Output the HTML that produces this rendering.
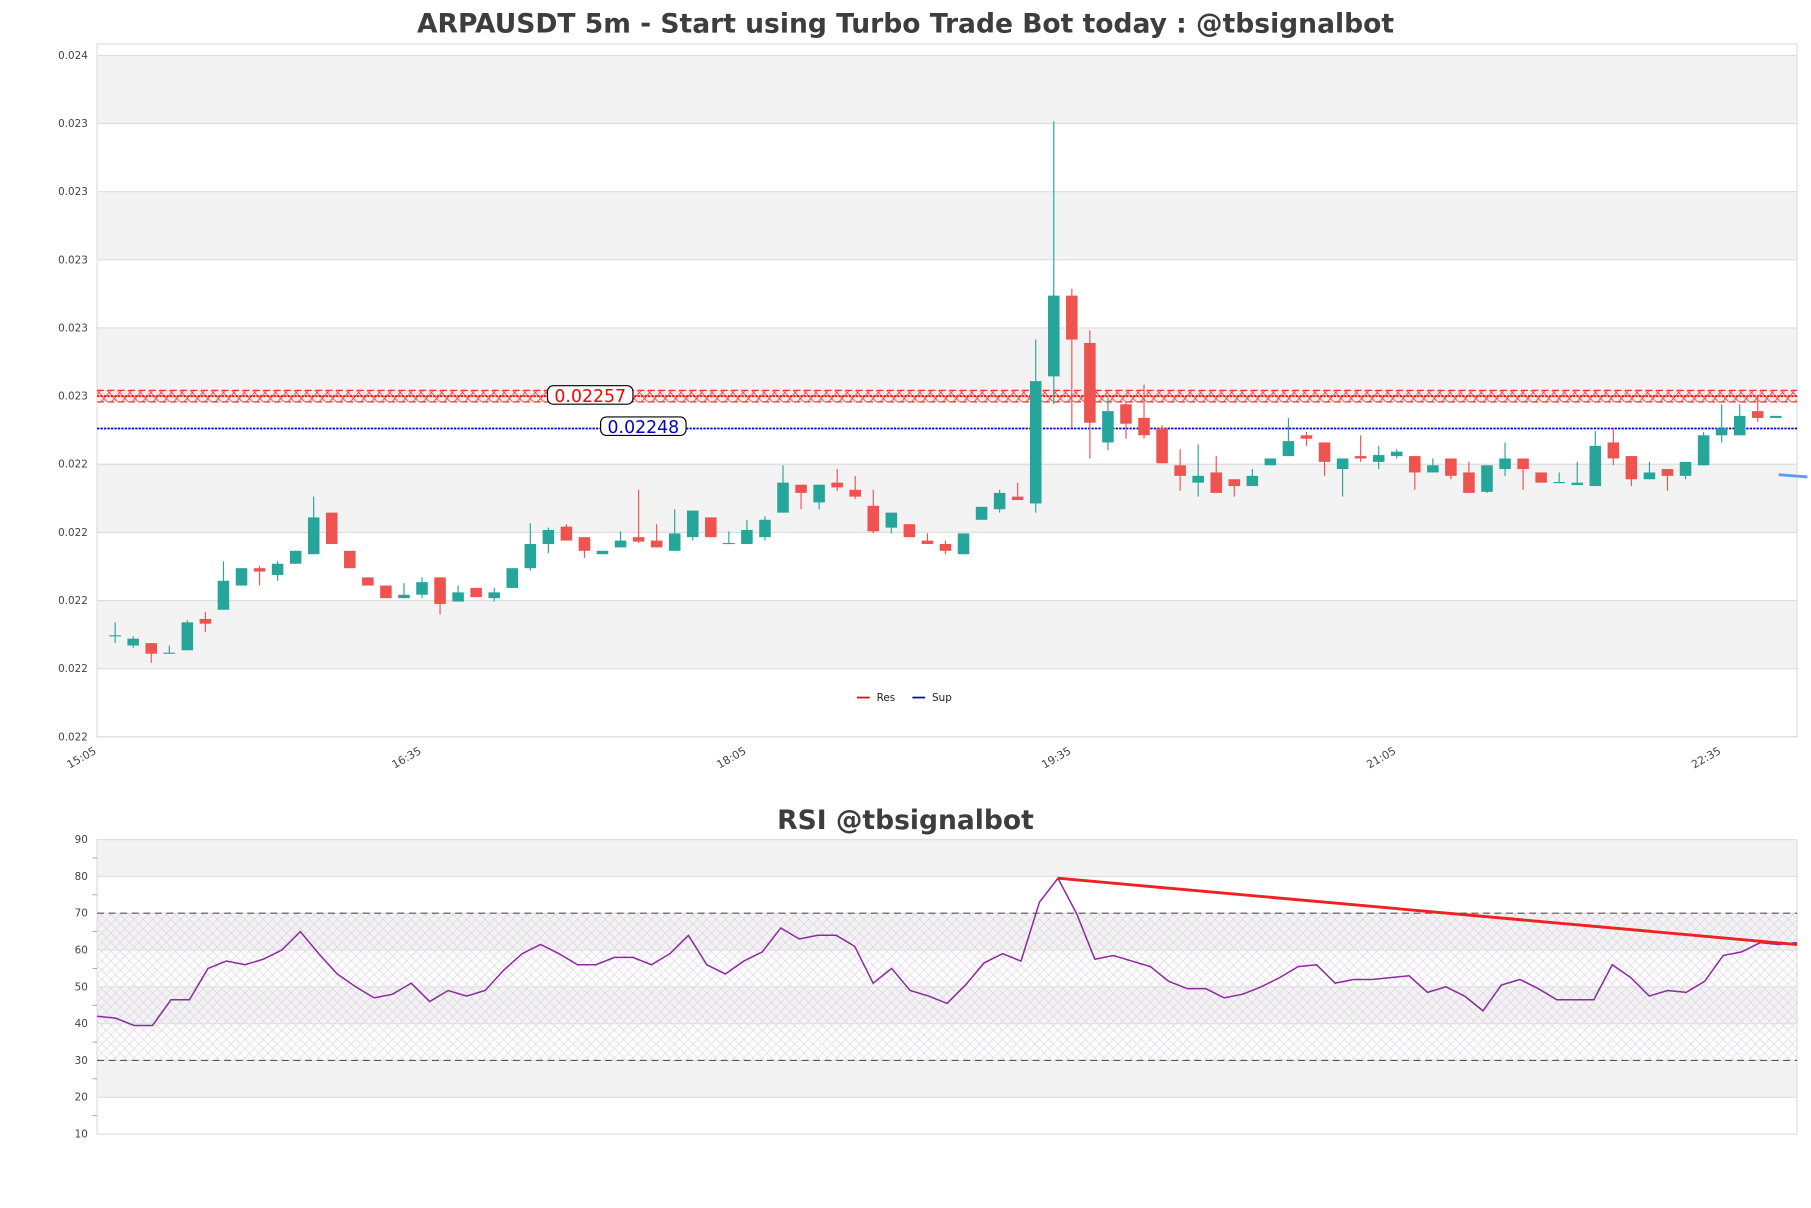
<!DOCTYPE html>
<html><head><meta charset="utf-8"><style>
html,body{margin:0;padding:0;background:#fff;}
svg{display:block;font-family:"DejaVu Sans","Liberation Sans",sans-serif;}
</style></head><body>
<svg id="chart" xmlns="http://www.w3.org/2000/svg" width="1811" height="1208" viewBox="0 0 1568 1046">
<defs>
<pattern id="resHatch" width="9" height="10" patternUnits="userSpaceOnUse">
<path d="M0,5 L4.5,0 L9,5 L4.5,10 Z" fill="none" stroke="#e33" stroke-width="0.7"/>
</pattern>
<pattern id="rsiHatch" width="8" height="8" patternUnits="userSpaceOnUse">
<path d="M0,0 L8,8 M8,0 L0,8" stroke="#d8c8e0" stroke-width="0.5" fill="none"/>
</pattern>
</defs>
<text x="784" y="28" text-anchor="middle" font-size="23" font-weight="bold" fill="#3d3d3d">ARPAUSDT 5m - Start using Turbo Trade Bot today : @tbsignalbot</text>
<text x="784" y="718" text-anchor="middle" font-size="23" font-weight="bold" fill="#3d3d3d">RSI @tbsignalbot</text>
<g id="main"></g>
<g id="rsi"></g>
</svg>
<script>
const opens=[0.021895,0.021868,0.021875,0.021844,0.021854,0.021946,0.021973,0.022044,0.022095,0.022075,0.022108,0.022136,0.022258,0.022146,0.022068,0.022044,0.022007,0.022017,0.022068,0.021997,0.022037,0.022007,0.022037,0.022095,0.022166,0.022217,0.022186,0.022136,0.022156,0.022186,0.022176,0.022146,0.022186,0.022244,0.022166,0.022166,0.022186,0.022258,0.022340,0.022288,0.022346,0.022325,0.022278,0.022214,0.022224,0.022176,0.022166,0.022136,0.022237,0.022268,0.022305,0.022285,0.022658,0.022895,0.022756,0.022464,0.022576,0.022536,0.022505,0.022397,0.022346,0.022376,0.022356,0.022336,0.022397,0.022424,0.022485,0.022464,0.022386,0.022424,0.022407,0.022424,0.022424,0.022376,0.022417,0.022376,0.022319,0.022386,0.022417,0.022376,0.022346,0.022339,0.022336,0.022464,0.022424,0.022356,0.022386,0.022366,0.022397,0.022485,0.022485,0.022556,0.022536];
const closes=[0.021898,0.021888,0.021844,0.021847,0.021936,0.021932,0.022058,0.022095,0.022085,0.022108,0.022146,0.022244,0.022166,0.022095,0.022044,0.022007,0.022017,0.022054,0.021990,0.022024,0.022010,0.022024,0.022095,0.022166,0.022207,0.022176,0.022146,0.022146,0.022176,0.022173,0.022156,0.022197,0.022264,0.022186,0.022169,0.022207,0.022237,0.022346,0.022316,0.022340,0.022332,0.022305,0.022203,0.022258,0.022186,0.022166,0.022146,0.022197,0.022275,0.022316,0.022295,0.022644,0.022895,0.022766,0.022522,0.022556,0.022519,0.022485,0.022403,0.022366,0.022366,0.022316,0.022336,0.022366,0.022417,0.022468,0.022475,0.022407,0.022417,0.022417,0.022427,0.022437,0.022376,0.022397,0.022366,0.022316,0.022397,0.022417,0.022386,0.022346,0.022348,0.022346,0.022454,0.022417,0.022356,0.022376,0.022366,0.022407,0.022485,0.022505,0.022542,0.022536,0.022542];
const highs=[0.021936,0.021895,0.021875,0.021868,0.021942,0.021966,0.022115,0.022095,0.022102,0.022115,0.022146,0.022305,0.022258,0.022146,0.022068,0.022044,0.022051,0.022068,0.022068,0.022044,0.022037,0.022037,0.022095,0.022227,0.022214,0.022224,0.022186,0.022146,0.022203,0.022325,0.022224,0.022268,0.022264,0.022244,0.022203,0.022237,0.022247,0.022397,0.022340,0.022340,0.022386,0.022366,0.022325,0.022258,0.022224,0.022197,0.022176,0.022197,0.022275,0.022325,0.022346,0.022766,0.023407,0.022915,0.022793,0.022597,0.022583,0.022634,0.022515,0.022444,0.022458,0.022424,0.022356,0.022386,0.022417,0.022536,0.022495,0.022464,0.022417,0.022485,0.022454,0.022444,0.022424,0.022417,0.022417,0.022407,0.022397,0.022464,0.022417,0.022376,0.022376,0.022407,0.022498,0.022505,0.022424,0.022407,0.022386,0.022407,0.022495,0.022576,0.022576,0.022600,0.022542];
const lows=[0.021875,0.021861,0.021817,0.021844,0.021854,0.021908,0.021973,0.022044,0.022044,0.022058,0.022108,0.022136,0.022166,0.022095,0.022044,0.022007,0.022007,0.022007,0.021959,0.021997,0.022010,0.021997,0.022037,0.022088,0.022139,0.022176,0.022125,0.022136,0.022156,0.022169,0.022156,0.022146,0.022176,0.022186,0.022166,0.022166,0.022176,0.022258,0.022268,0.022268,0.022322,0.022298,0.022197,0.022197,0.022186,0.022166,0.022136,0.022136,0.022237,0.022258,0.022295,0.022258,0.022576,0.022508,0.022417,0.022441,0.022475,0.022475,0.022403,0.022322,0.022305,0.022316,0.022305,0.022336,0.022397,0.022424,0.022454,0.022366,0.022305,0.022407,0.022386,0.022417,0.022325,0.022376,0.022356,0.022316,0.022316,0.022366,0.022325,0.022346,0.022346,0.022339,0.022336,0.022397,0.022336,0.022356,0.022322,0.022356,0.022397,0.022464,0.022485,0.022525,0.022536];
const xTickLabels=["15:05","16:35","18:05","19:35","21:05","22:35"];
const yTickValues=[0.0216,0.0218,0.0220,0.0222,0.0224,0.0226,0.0228,0.0230,0.0232,0.0234,0.0236];
const resLevel=[0.022600];
const supLevel=[0.022505];
const levelLabels=["0.02257","0.02248"];
const rsiValues=[42,41.5,39.5,39.5,46.5,46.5,55,57,56,57.5,60,65,59,53.5,50,47,48,51,46,49,47.5,49,54.5,59,61.5,59,56,56,58,58,56,59,64,56,53.5,57,59.5,66,63,64,64,61,51,55,49,47.5,45.5,50.5,56.5,59,57,73,79.5,70,57.5,58.5,57,55.5,51.5,49.5,49.5,47,48,50,52.5,55.5,56,51,52,52,52.5,53,48.5,50,47.5,43.5,50.5,52,49.5,46.5,46.5,46.5,56,52.5,47.5,49,48.5,51.5,58.5,59.5,62,61.5,62];
const rsiTicks=[10,20,30,40,50,60,70,80,90];
const trendRsi=[79.5,61.5];

const NS="http://www.w3.org/2000/svg";
function mk(parent,tag,attrs){const e=document.createElementNS(NS,tag);for(const k in attrs)e.setAttribute(k,attrs[k]);parent.appendChild(e);return e;}
const L=84,R=1556,T=38,B=638;
const step=15.63;
const xAt=i=>L+step*(i+1);
const yP=p=>343-(p-0.0226)/0.0002*59;
const main=document.getElementById('main');
for(let k=0;k<yTickValues.length-1;k++){
  const y1=yP(yTickValues[k+1]),y2=yP(yTickValues[k]);
  const r=mk(main,'rect',{x:L,y:y1,width:R-L,height:y2-y1,fill:(k%2===0)?'#ffffff':'#f3f3f3'});
  
  
}
const frame=mk(main,'rect',{x:L,y:T,width:R-L,height:B-T,fill:'none',stroke:'#dddddd','stroke-width':1});


yTickValues.forEach(v=>{
  const y=yP(v);
  const g=mk(main,'line',{x1:L,x2:R,y1:y,y2:y,stroke:'#dddddd','stroke-width':1});
  
  
  const t=mk(main,'text',{x:76,y:y+3,'text-anchor':'end','font-size':9,fill:'#444'});
  t.textContent=v.toFixed(3);
  
  
});
xTickLabels.forEach((lab,k)=>{
  const x=L+k*18*step;
  const t=mk(main,'text',{x:x,y:652,'text-anchor':'end','font-size':9.5,fill:'#444',transform:`rotate(-30 ${x} 652)`});
  t.textContent=lab;
  
  
});
const ry=yP(resLevel[0]);
const rz=mk(main,'rect',{x:L,y:ry-5,width:R-L,height:10,fill:'#fde8e8'});


const rh=mk(main,'rect',{x:L,y:ry-5,width:R-L,height:10,fill:'url(#resHatch)'});


[-5,5].forEach(d=>{const l=mk(main,'line',{x1:L,x2:R,y1:ry+d,y2:ry+d,stroke:'#e22','stroke-width':1,'stroke-dasharray':'6,3'});

});
const rl=mk(main,'line',{x1:L,x2:R,y1:ry,y2:ry,stroke:'#f00','stroke-width':1.6,'stroke-dasharray':'2,1'});


const sy=yP(supLevel[0]);
const sl=mk(main,'line',{x1:L,x2:R,y1:sy,y2:sy,stroke:'#00c','stroke-width':1.6,'stroke-dasharray':'2,1'});


for(let i=0;i<opens.length;i++){
  const x=xAt(i),up=closes[i]>=opens[i],col=up?'#26a69a':'#ef5350';
  const w=mk(main,'line',{x1:x,x2:x,y1:yP(highs[i]),y2:yP(lows[i]),stroke:col,'stroke-width':1});
  
  
  const yt=yP(Math.max(opens[i],closes[i])),yb=yP(Math.min(opens[i],closes[i]));
  const b=mk(main,'rect',{x:x-5,y:yt,width:10,height:Math.max(1,yb-yt),fill:col});
  
  
}
function levelLabel(x,y,txt,col,name){
  const r=mk(main,'rect',{x:x,y:y-8,width:74,height:16,rx:5,fill:'#fff',stroke:'#000','stroke-width':1});
  
  
  const t=mk(main,'text',{x:x+37,y:y+6,'text-anchor':'middle','font-size':15,fill:col});
  t.textContent=txt;
  
  
}
levelLabel(474,ry-1,levelLabels[0],'#f00','resistance-label');
levelLabel(520,sy-2,levelLabels[1],'#00c','support-label');
const bl=mk(main,'line',{x1:1540,x2:1565,y1:411,y2:413,stroke:'#5aa0f0','stroke-width':2.5});


const lg=mk(main,'g',{});


[['Res','#e00',742],['Sup','#00c',790]].forEach(([n,c,x])=>{
  const l=mk(lg,'line',{x1:x,x2:x+11,y1:604,y2:604,stroke:c,'stroke-width':1.5});
  
  
  const t=mk(lg,'text',{x:x+17,y:607,'font-size':9,fill:'#222'});
  t.textContent=n;
  
  
});
const rsi=document.getElementById('rsi');
const RT=727,RB=982;
const yR=v=>RB-(v-10)/80*(RB-RT);
const rstep=(R-L)/(rsiValues.length-1);
const xR=i=>L+rstep*i;
for(let k=0;k<rsiTicks.length-1;k++){
  const y1=yR(rsiTicks[k+1]),y2=yR(rsiTicks[k]);
  const r=mk(rsi,'rect',{x:L,y:y1,width:R-L,height:y2-y1,fill:(k%2===1)?'#f3f3f3':'#ffffff'});
  
  
}
const hz=mk(rsi,'rect',{x:L,y:yR(70),width:R-L,height:yR(30)-yR(70),fill:'url(#rsiHatch)'});


const rf=mk(rsi,'rect',{x:L,y:RT,width:R-L,height:RB-RT,fill:'none',stroke:'#dddddd','stroke-width':1});


rsiTicks.forEach(v=>{
  const y=yR(v);
  const g=mk(rsi,'line',{x1:L,x2:R,y1:y,y2:y,stroke:'#e0e0e0','stroke-width':1});
  
  
  const t=mk(rsi,'text',{x:76,y:y+3,'text-anchor':'end','font-size':9,fill:'#444'});
  t.textContent=v;
  
  
  if(v<90){const m=mk(rsi,'line',{x1:80,x2:84,y1:yR(v+5),y2:yR(v+5),stroke:'#888','stroke-width':0.6});
  
  }
});
[70,30].forEach(v=>{const l=mk(rsi,'line',{x1:L,x2:R,y1:yR(v),y2:yR(v),stroke:'#555','stroke-width':1,'stroke-dasharray':'6,4'});

});
const pts=rsiValues.map((v,i)=>`${xR(i)},${yR(v)}`).join(' ');
const pl=mk(rsi,'polyline',{points:pts,fill:'none',stroke:'#8b2a9b','stroke-width':1.3});


const ti=rsiValues.indexOf(Math.max(...rsiValues));
const tl=mk(rsi,'line',{x1:xR(ti),y1:yR(trendRsi[0]),x2:R,y2:yR(trendRsi[1]),stroke:'#ee2222','stroke-width':2.5});


</script>
</body></html>
